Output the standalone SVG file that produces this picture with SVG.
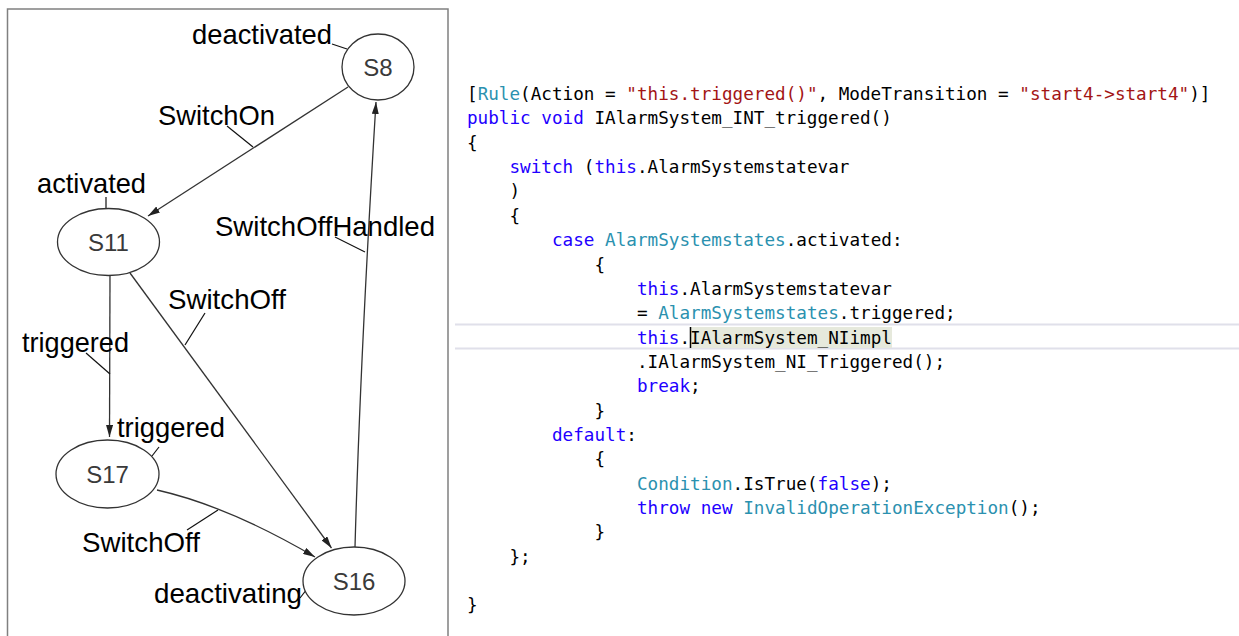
<svg xmlns="http://www.w3.org/2000/svg" width="1239" height="636" viewBox="0 0 1239 636">
<style>
.frame{fill:none;stroke:#808080;stroke-width:1.5}
.node ellipse{fill:#fff;stroke:#333;stroke-width:1.3}
.node text{font-family:"Liberation Sans",Arial,sans-serif;font-size:24px;fill:#3a3a3a;text-anchor:middle}
.edge{fill:none;stroke:#333;stroke-width:1.3}
.lead{fill:none;stroke:#111;stroke-width:1.2}
.lbl{font-family:"Liberation Sans",Arial,sans-serif;font-size:28px;fill:#000}
.code{font-family:"DejaVu Sans Mono","Liberation Mono",monospace;font-size:17.65px;fill:#000}
.kw{fill:#2200ff}
.ty{fill:#2b91af}
.st{fill:#a31515}
</style>
<defs>
<marker id="ah" markerWidth="12" markerHeight="7" refX="12" refY="3.5" orient="auto" markerUnits="userSpaceOnUse">
<path d="M0,0 L12,3.5 L0,7 z" fill="#222"/>
</marker>
</defs>
<rect width="1239" height="636" fill="#fff"/>
<path class="frame" d="M7.5,640 V9 H448 V640"/>

<g id="connectors">
<line class="edge" x1="348" y1="87" x2="148" y2="216" marker-end="url(#ah)"/>
<line class="edge" x1="110" y1="275" x2="109.5" y2="437" marker-end="url(#ah)"/>
<line class="edge" x1="130" y1="273" x2="331.5" y2="548" marker-end="url(#ah)"/>
<path class="edge" d="M157,490 Q228,506 315,557" marker-end="url(#ah)"/>
<path class="edge" d="M355,547 C358,440 362,330 376,102" marker-end="url(#ah)"/>
<line class="lead" x1="332" y1="44" x2="347" y2="49"/>
<line class="lead" x1="227" y1="126" x2="253" y2="147"/>
<line class="lead" x1="106" y1="197" x2="106" y2="208"/>
<line class="lead" x1="335" y1="237" x2="365" y2="252"/>
<line class="lead" x1="205" y1="313" x2="185" y2="345"/>
<line class="lead" x1="86" y1="353" x2="110" y2="374"/>
<line class="lead" x1="159" y1="447" x2="152" y2="456"/>
<line class="lead" x1="187" y1="530" x2="218" y2="510"/>
<line class="lead" x1="300" y1="598" x2="307" y2="589"/>
</g>

<g id="S8" class="node"><ellipse cx="378" cy="67" rx="36" ry="33"/><text x="378" y="76">S8</text></g>
<g id="S11" class="node"><ellipse cx="108.5" cy="242" rx="51" ry="33.5"/><text x="108.5" y="251">S11</text></g>
<g id="S17" class="node"><ellipse cx="107.5" cy="474" rx="51.5" ry="34"/><text x="107.5" y="483">S17</text></g>
<g id="S16" class="node"><ellipse cx="354" cy="581" rx="51" ry="34"/><text x="354" y="590">S16</text></g>

<g id="labels">
<text class="lbl" x="192" y="44" textLength="140" lengthAdjust="spacingAndGlyphs">deactivated</text>
<text class="lbl" x="158" y="125" textLength="117" lengthAdjust="spacingAndGlyphs">SwitchOn</text>
<text class="lbl" x="37" y="193" textLength="109" lengthAdjust="spacingAndGlyphs">activated</text>
<text class="lbl" x="215" y="236" textLength="220" lengthAdjust="spacingAndGlyphs">SwitchOffHandled</text>
<text class="lbl" x="168" y="309" textLength="118" lengthAdjust="spacingAndGlyphs">SwitchOff</text>
<text class="lbl" x="22" y="352" textLength="107" lengthAdjust="spacingAndGlyphs">triggered</text>
<text class="lbl" x="117" y="437" textLength="108" lengthAdjust="spacingAndGlyphs">triggered</text>
<text class="lbl" x="82" y="552" textLength="118" lengthAdjust="spacingAndGlyphs">SwitchOff</text>
<text class="lbl" x="154" y="603" textLength="148" lengthAdjust="spacingAndGlyphs">deactivating</text>
</g>

<g id="code">
<line x1="455" y1="324.5" x2="1239" y2="324.5" stroke="#e0e0ea" stroke-width="2"/>
<line x1="455" y1="348.5" x2="1239" y2="348.5" stroke="#e0e0ea" stroke-width="2"/>
<rect x="690" y="327" width="202" height="21" fill="#e6e9dc"/>
<line x1="690.5" y1="327" x2="690.5" y2="348" stroke="#000" stroke-width="1.5"/>
<text class="code" xml:space="preserve" x="467" y="100">[<tspan class="ty">Rule</tspan>(Action = <tspan class="st">"this.triggered()"</tspan>, ModeTransition = <tspan class="st">"start4-&gt;start4"</tspan>)]</text>
<text class="code" xml:space="preserve" x="467" y="124.4"><tspan class="kw">public void</tspan> IAlarmSystem_INT_triggered()</text>
<text class="code" x="467" y="148.7">{</text>
<text class="code" xml:space="preserve" x="509.5" y="173"><tspan class="kw">switch</tspan> (<tspan class="kw">this</tspan>.AlarmSystemstatevar</text>
<text class="code" x="509.5" y="197.4">)</text>
<text class="code" x="509.5" y="221.8">{</text>
<text class="code" xml:space="preserve" x="552" y="246.1"><tspan class="kw">case</tspan> <tspan class="ty">AlarmSystemstates</tspan>.activated:</text>
<text class="code" x="594.5" y="270.5">{</text>
<text class="code" x="637" y="294.8"><tspan class="kw">this</tspan>.AlarmSystemstatevar</text>
<text class="code" xml:space="preserve" x="637" y="319.2">= <tspan class="ty">AlarmSystemstates</tspan>.triggered;</text>
<text class="code" x="637" y="343.5"><tspan class="kw">this</tspan>.IAlarmSystem_NIimpl</text>
<text class="code" x="637" y="367.9">.IAlarmSystem_NI_Triggered();</text>
<text class="code" x="637" y="392.2"><tspan class="kw">break</tspan>;</text>
<text class="code" x="594.5" y="416.6">}</text>
<text class="code" x="552" y="440.9"><tspan class="kw">default</tspan>:</text>
<text class="code" x="594.5" y="465.3">{</text>
<text class="code" x="637" y="489.6"><tspan class="ty">Condition</tspan>.IsTrue(<tspan class="kw">false</tspan>);</text>
<text class="code" xml:space="preserve" x="637" y="514"><tspan class="kw">throw new</tspan> <tspan class="ty">InvalidOperationException</tspan>();</text>
<text class="code" x="594.5" y="538.3">}</text>
<text class="code" x="509.5" y="562.7">};</text>
<text class="code" x="467" y="611.4">}</text>
</g>
</svg>
